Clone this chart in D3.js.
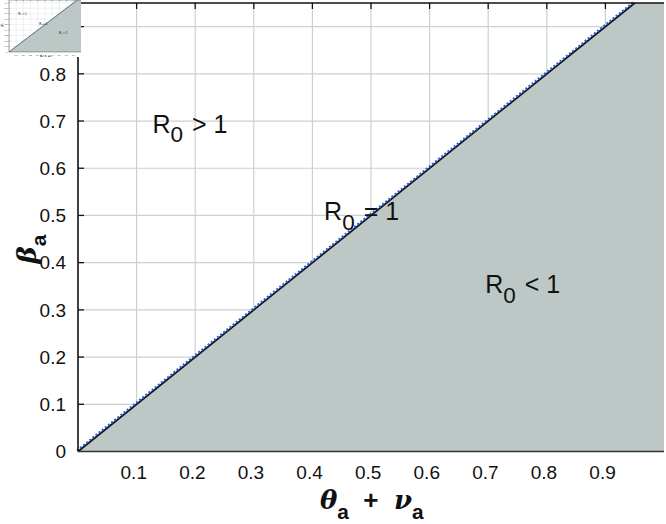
<!DOCTYPE html>
<html><head><meta charset="utf-8">
<script src="https://cdn.jsdelivr.net/npm/d3@7"></script>
<style>body{margin:0;background:#fff}svg{display:block}</style>
</head><body><svg id="c" width="666" height="524"></svg>
<script>
// data
const xTicks = [0.1,0.2,0.3,0.4,0.5,0.6,0.7,0.8,0.9];
const yTicks = [0,0.1,0.2,0.3,0.4,0.5,0.6,0.7,0.8,0.9];
const yTickLabelsMain = [0,0.1,0.2,0.3,0.4,0.5,0.6,0.7,0.8]; // 0.9 label hidden under the inset
const xDomain = [0, 1];
const yDomain = [0, 0.95];
const boundaryX = [0, 0.95];          // R0 = 1 : beta_a = theta_a + nu_a
const boundaryY = [0, 0.95];
const regionLabels = [
  {name:"R", sub:"0", rest:" > 1", x:0.127, y:0.675},
  {name:"R", sub:"0", rest:" = 1", x:0.42, y:0.49},
  {name:"R", sub:"0", rest:" < 1", x:0.695, y:0.335}
];

const svg = d3.select("#c");
const font = "'Liberation Sans', Arial, Helvetica, sans-serif";

function drawChart(g, x, y, opt){
  const [x0,x1] = x.range(); const [y0,y1] = y.range();
  g.append("g").selectAll("line").data(xTicks).join("line")
    .attr("x1",d=>x(d)).attr("x2",d=>x(d)).attr("y1",y0).attr("y2",y1)
    .attr("stroke","#c9d2d2").attr("stroke-width",opt.grid);
  g.append("g").selectAll("line").data(yTicks.filter(d=>d>0)).join("line")
    .attr("x1",x0).attr("x2",x1).attr("y1",d=>y(d)).attr("y2",d=>y(d))
    .attr("stroke","#c9d2d2").attr("stroke-width",opt.grid);
  const poly = [[boundaryX[0],boundaryY[0]],[boundaryX[1],boundaryY[1]],[xDomain[1],yDomain[1]],[xDomain[1],yDomain[0]]];
  g.append("path").attr("d", d3.line().x(d=>x(d[0])).y(d=>y(d[1]))(poly)+"Z")
    .attr("fill","#bdc8c6");
  const pts = boundaryX.map((v,i)=>[v,boundaryY[i]]);
  const ln = d3.line().x(d=>x(d[0])).y(d=>y(d[1]));
  g.append("path").attr("d",ln(pts)).attr("stroke","#111").attr("stroke-width",opt.line).attr("fill","none");
  g.append("path").attr("d",ln(pts)).attr("stroke","#2d5ee0").attr("stroke-width",opt.line*1.2)
    .attr("stroke-dasharray",opt.dash).attr("fill","none")
    .attr("transform",`translate(${-opt.line*0.55},${-opt.line*0.55})`);
  g.append("line").attr("x1",x0).attr("x2",x0).attr("y1",y0).attr("y2",y1).attr("stroke","#111").attr("stroke-width",opt.axis);
  g.append("line").attr("x1",x0).attr("x2",x1).attr("y1",y0).attr("y2",y0).attr("stroke","#333").attr("stroke-width",opt.axis);
  g.append("line").attr("x1",x0).attr("x2",x1).attr("y1",y1).attr("y2",y1).attr("stroke","#111").attr("stroke-width",opt.axis);
  g.append("g").selectAll("line").data(yTicks.filter(d=>d>0)).join("line")
    .attr("x1",x0).attr("x2",x0+opt.tick).attr("y1",d=>y(d)).attr("y2",d=>y(d))
    .attr("stroke","#111").attr("stroke-width",opt.axis*0.8);
  g.append("g").selectAll("line").data(xTicks).join("line")
    .attr("x1",d=>x(d)).attr("x2",d=>x(d)).attr("y1",y1).attr("y2",y1+opt.tick)
    .attr("stroke","#111").attr("stroke-width",opt.axis*0.8);
  g.append("g").selectAll("text").data(opt.yLabels).join("text")
    .attr("x",x0-opt.tlOff).attr("y",d=>y(d)+opt.tfs*0.36).attr("text-anchor","end")
    .attr("font-family",font).attr("font-size",opt.tfs).attr("fill","#111").text(d=>d3.format("")(d));
  g.append("g").selectAll("text").data(xTicks).join("text")
    .attr("x",d=>x(d)-opt.tfs*0.15).attr("y",y0+opt.xtlOff).attr("text-anchor","middle")
    .attr("font-family",font).attr("font-size",opt.tfs).attr("fill","#111").text(d=>d3.format("")(d));
  regionLabels.forEach(r=>{
    const t = g.append("text").attr("x",x(r.x)).attr("y",y(r.y))
      .attr("font-family",font).attr("font-size",opt.lfs).attr("fill","#111").attr("xml:space","preserve");
    if (opt.simple) { t.text(r.name + "\u2080" + r.rest); return; }
    t.append("tspan").text(r.name);
    t.append("tspan").attr("dy",opt.lfs*0.38).attr("font-size",opt.lfs*0.9).text(r.sub);
    t.append("tspan").attr("dy",-opt.lfs*0.38).attr("dx",opt.lfs*0.08).text(r.rest);
  });
  const xl = g.append("text").attr("x",opt.xlx).attr("y",opt.xly)
    .attr("font-family","'DejaVu Serif', 'Liberation Serif', serif").attr("font-weight","bold").attr("font-style","italic")
    .attr("font-size",opt.afs).attr("fill","#111");
  if (opt.simple) {
    xl.text("θₐ + νₐ");
  } else {
    xl.append("tspan").text("θ");
    xl.append("tspan").attr("dy",opt.afs*0.4).attr("font-family",font).attr("font-style","normal").attr("font-size",opt.afs*0.8).text("a");
    xl.append("tspan").attr("dy",-opt.afs*0.4).attr("font-family",font).attr("font-style","normal").attr("dx",opt.afs*0.55).text("+");
    xl.append("tspan").attr("dx",opt.afs*0.6).text("ν");
    xl.append("tspan").attr("dy",opt.afs*0.4).attr("font-family",font).attr("font-style","normal").attr("font-size",opt.afs*0.8).text("a");
  }
  const yl = g.append("text").attr("transform",`translate(${opt.ylx},${opt.yly}) rotate(-90)`)
    .attr("font-family","'DejaVu Serif', 'Liberation Serif', serif").attr("font-weight","bold").attr("font-style","italic")
    .attr("font-size",opt.afs).attr("fill","#111").attr("text-anchor","middle");
  if (opt.simple) {
    yl.text("βₐ");
  } else {
    yl.append("tspan").text("β");
    yl.append("tspan").attr("dy",opt.afs*0.4).attr("font-family",font).attr("font-style","normal").attr("font-size",opt.afs*0.8).text("a");
  }
}

// main chart
const x = d3.scaleLinear().domain(xDomain).range([78, 664]);
const y = d3.scaleLinear().domain(yDomain).range([451.5, 3]);
drawChart(svg.append("g"), x, y, {yLabels:yTickLabelsMain,grid:1.2,line:1.8,dash:"2,2",axis:1.6,tick:6,tlOff:12,xtlOff:27,tfs:19,lfs:25,afs:26,
  xlx:320,xly:509,ylx:36,yly:249});

// thumbnail inset (top-left)
const th = svg.append("g");
th.append("rect").attr("x",0).attr("y",0).attr("width",81).attr("height",57).attr("fill","#fff");
const tx = d3.scaleLinear().domain(xDomain).range([9, 81]);
const ty = d3.scaleLinear().domain(yDomain).range([52, 0]);
drawChart(th, tx, ty, {yLabels:yTicks,simple:true,grid:0.3,line:0.5,dash:"0.6,0.8",axis:0.4,tick:1,tlOff:1.5,xtlOff:3.5,tfs:2.2,lfs:3,afs:3,
  xlx:40,xly:57,ylx:3,yly:25});
</script></body></html>
